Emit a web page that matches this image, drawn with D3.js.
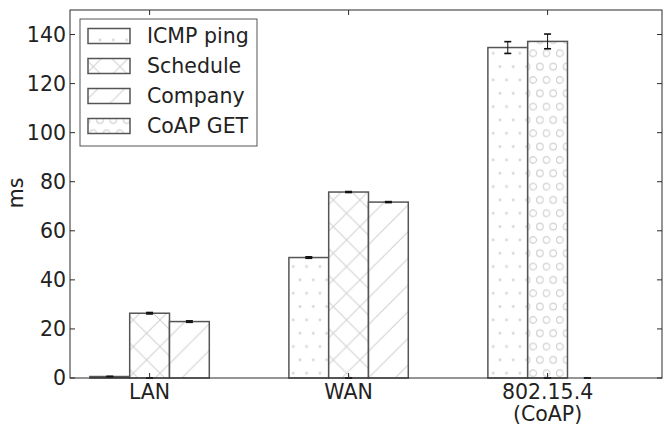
<!DOCTYPE html>
<html>
<head>
<meta charset="utf-8">
<script src="https://cdn.jsdelivr.net/npm/d3@7"></script>
<style>
  body { margin: 0; background: #fff; }
  text { font-family: "DejaVu Sans", sans-serif; fill: #222; }
</style>
</head>
<body>
<svg id="chart" width="663" height="427"></svg>
<script>
// podatki
var groups = ["LAN", "WAN", "802.15.4\n(CoAP)"];
var seriesNames = ["ICMP ping", "Schedule", "Company", "CoAP GET"];
var seriesSlot = [0, 1, 2, 1];           // kateri stolpec v skupini
var seriesHatch = ["dots", "cross", "diag", "rings"];
var icmpVals = [0.6, 49.1, 134.7];
var icmpErr = [0.1, 0.3, 2.4];
var scheduleVals = [26.4, 75.8, 0];
var scheduleErr = [0.3, 0.2, 0];
var companyVals = [23.0, 71.7, 0];
var companyErr = [0.3, 0.2, 0];
var coapVals = [0, 0, 137.2];
var coapErr = [0, 0, 3.0];
var yTicks = [0, 20, 40, 60, 80, 100, 120, 140];

var values = [icmpVals, scheduleVals, companyVals, coapVals];
var errors = [icmpErr, scheduleErr, companyErr, coapErr];

var barW = 0.2;
var svg = d3.select("#chart");

var x = d3.scaleLinear().domain([-0.1, 2.875]).range([70, 662]);
var y = d3.scaleLinear().domain([0, 150]).range([378, 10]);

// vzorci (hatch)
var defs = svg.append("defs");
var hc = "#d0d0d0";
var u = 13.33;

var pDots = defs.append("pattern").attr("id", "dots")
  .attr("patternUnits", "userSpaceOnUse").attr("width", u).attr("height", 2 * u);
[[0, 0], [u, 0], [u / 2, u], [0, 2 * u], [u, 2 * u]].forEach(function(p) {
  pDots.append("circle").attr("cx", p[0]).attr("cy", p[1]).attr("r", 1.4).attr("fill", "#d6d6d6");
});

var pRings = defs.append("pattern").attr("id", "rings")
  .attr("patternUnits", "userSpaceOnUse").attr("width", u).attr("height", 2 * u);
[[0, 0], [u, 0], [u / 2, u], [0, 2 * u], [u, 2 * u]].forEach(function(p) {
  pRings.append("circle").attr("cx", p[0]).attr("cy", p[1]).attr("r", 3.3)
    .attr("fill", "none").attr("stroke", hc).attr("stroke-width", 1.1);
});

var h = 2 * u;
var ne = "M0," + h + "L" + h + ",0 M" + (-h / 2) + "," + (h / 2) + "L" + (h / 2) + "," + (-h / 2) +
  " M" + (h / 2) + "," + (3 * h / 2) + "L" + (3 * h / 2) + "," + (h / 2);
var se = "M0,0L" + h + "," + h + " M" + (-h / 2) + "," + (h / 2) + "L" + (h / 2) + "," + (3 * h / 2) +
  " M" + (h / 2) + "," + (-h / 2) + "L" + (3 * h / 2) + "," + (h / 2);

defs.append("pattern").attr("id", "diag")
  .attr("patternUnits", "userSpaceOnUse").attr("width", h).attr("height", h)
  .append("path").attr("d", ne).attr("stroke", hc).attr("stroke-width", 1).attr("fill", "none");

var pCross = defs.append("pattern").attr("id", "cross")
  .attr("patternUnits", "userSpaceOnUse").attr("width", h).attr("height", h);
pCross.append("path").attr("d", ne + " " + se).attr("stroke", hc).attr("stroke-width", 1).attr("fill", "none");

// stolpci
seriesNames.forEach(function(name, s) {
  var g = svg.append("g");
  values[s].forEach(function(v, i) {
    var x0 = x(i + seriesSlot[s] * barW);
    var x1 = x(i + (seriesSlot[s] + 1) * barW);
    if (v > 0) {
      g.append("rect")
        .attr("x", x0).attr("y", y(v))
        .attr("width", x1 - x0).attr("height", y(0) - y(v))
        .attr("fill", "#fff");
      g.append("rect")
        .attr("x", x0).attr("y", y(v))
        .attr("width", x1 - x0).attr("height", y(0) - y(v))
        .attr("fill", "url(#" + seriesHatch[s] + ")")
        .attr("stroke", "#555").attr("stroke-width", 1.5);
    }
  });
});

// error bars
seriesNames.forEach(function(name, s) {
  values[s].forEach(function(v, i) {
    var cx = x(i + (seriesSlot[s] + 0.5) * barW);
    var e = errors[s][i];
    svg.append("line").attr("x1", cx).attr("x2", cx)
      .attr("y1", y(v - e)).attr("y2", y(v + e))
      .attr("stroke", "#111").attr("stroke-width", 1);
    [v - e, v + e].forEach(function(t) {
      svg.append("line").attr("x1", cx - 3.5).attr("x2", cx + 3.5)
        .attr("y1", y(t)).attr("y2", y(t))
        .attr("stroke", "#111").attr("stroke-width", 1.6);
    });
  });
});

// okvir in osi
var ac = "#2a2a2a";
svg.append("rect").attr("x", 70).attr("y", 10).attr("width", 592).attr("height", 368)
  .attr("fill", "none").attr("stroke", ac).attr("stroke-width", 1);

var tl = 5;
yTicks.forEach(function(t) {
  svg.append("line").attr("x1", 70).attr("x2", 70 + tl).attr("y1", y(t)).attr("y2", y(t))
    .attr("stroke", ac);
  svg.append("line").attr("x1", 662).attr("x2", 662 - tl).attr("y1", y(t)).attr("y2", y(t))
    .attr("stroke", ac);
  svg.append("text").attr("x", 66).attr("y", y(t)).attr("dy", "0.36em")
    .attr("text-anchor", "end").attr("font-size", 20.5).text(t);
});

groups.forEach(function(gname, i) {
  var tx = x(i + 1.5 * barW);
  svg.append("line").attr("x1", tx).attr("x2", tx).attr("y1", 378).attr("y2", 378 - tl).attr("stroke", ac);
  svg.append("line").attr("x1", tx).attr("x2", tx).attr("y1", 10).attr("y2", 10 + tl).attr("stroke", ac);
  var lines = gname.split("\n");
  lines.forEach(function(l, k) {
    svg.append("text").attr("x", tx).attr("y", 399 + k * 22)
      .attr("text-anchor", "middle").attr("font-size", 20.5).text(l);
  });
});

svg.append("text").attr("transform", "translate(23,193) rotate(-90)")
  .attr("text-anchor", "middle").attr("font-size", 20.5).text("ms");

// legenda
var leg = svg.append("g");
leg.append("rect").attr("x", 80).attr("y", 19).attr("width", 177).attr("height", 127)
  .attr("fill", "#fff").attr("stroke", "#555").attr("stroke-width", 1);
seriesNames.forEach(function(name, s) {
  var cy = 36 + s * 30;
  leg.append("rect").attr("x", 88).attr("y", cy - 7.5).attr("width", 42).attr("height", 15)
    .attr("fill", "url(#" + seriesHatch[s] + ")").attr("stroke", "#555").attr("stroke-width", 1.5);
  leg.append("text").attr("x", 147).attr("y", cy).attr("dy", "0.36em")
    .attr("font-size", 20.5).text(name);
});
</script>
</body>
</html>
